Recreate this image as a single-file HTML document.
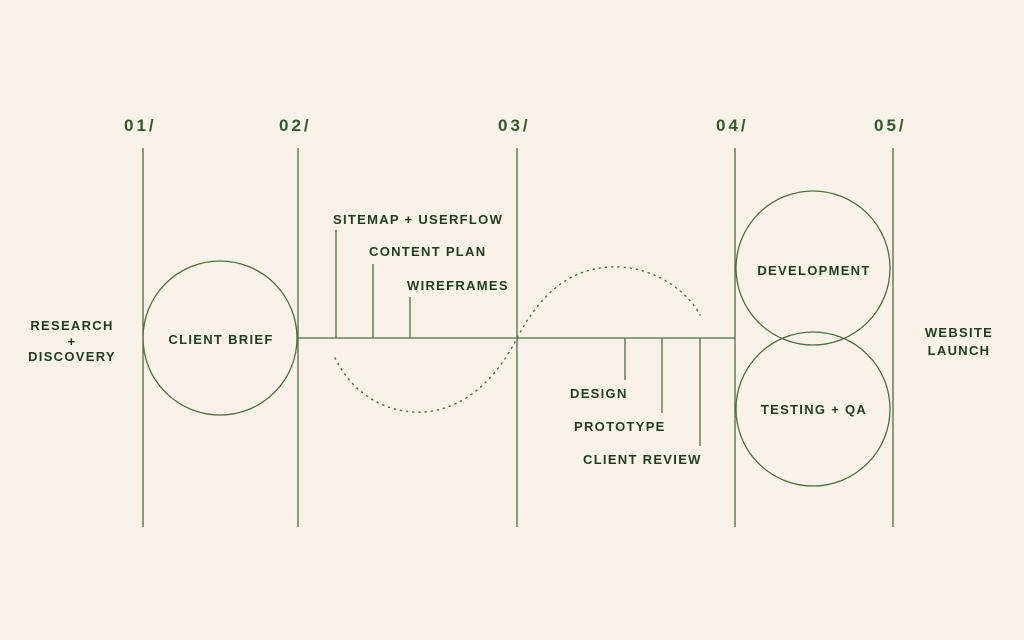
<!DOCTYPE html>
<html><head><meta charset="utf-8"><style>
html,body{margin:0;padding:0;background:#f8f2e8;}
svg{display:block}
text{font-family:"Liberation Sans",sans-serif;font-weight:bold;fill:#1f3d22;letter-spacing:1.3px;font-size:13px}
.n{font-size:17px;letter-spacing:3px;fill:#2f5a2a;font-weight:bold}
</style></head><body>
<svg width="1024" height="640" viewBox="0 0 1024 640">
<rect width="1024" height="640" fill="#f8f2e8"/>
<g stroke="#4d6e44" stroke-width="1.3" fill="none">
<line x1="143" y1="148" x2="143" y2="527"/>
<line x1="298" y1="148" x2="298" y2="527"/>
<line x1="517" y1="148" x2="517" y2="527"/>
<line x1="735" y1="148" x2="735" y2="527"/>
<line x1="893" y1="148" x2="893" y2="527"/>
<line x1="298" y1="338" x2="735" y2="338"/>
<circle cx="220" cy="338" r="77"/>
<circle cx="813" cy="268" r="77"/>
<circle cx="813" cy="409" r="77"/>
<line x1="336" y1="230" x2="336" y2="338"/>
<line x1="373" y1="264" x2="373" y2="338"/>
<line x1="410" y1="297" x2="410" y2="338"/>
<line x1="625" y1="338" x2="625" y2="380"/>
<line x1="662" y1="338" x2="662" y2="413"/>
<line x1="700" y1="338" x2="700" y2="446"/>
<path d="M335,358 C355,398 390,414 425,412 C470,408 500,372 517,338 C540,295 570,265 620,267 C660,269 690,295 700,315" stroke-dasharray="1.2 5" stroke-linecap="round" stroke-width="1.4"/>
</g>
<text class="n" x="124" y="131">01/</text>
<text class="n" x="279" y="131">02/</text>
<text class="n" x="498" y="131">03/</text>
<text class="n" x="716" y="131">04/</text>
<text class="n" x="874" y="131">05/</text>
<text x="72" y="330" text-anchor="middle">RESEARCH</text>
<text x="72" y="346" text-anchor="middle">+</text>
<text x="72" y="361" text-anchor="middle">DISCOVERY</text>
<text x="221" y="344" text-anchor="middle">CLIENT BRIEF</text>
<text x="333" y="224">SITEMAP + USERFLOW</text>
<text x="369" y="256">CONTENT PLAN</text>
<text x="407" y="290">WIREFRAMES</text>
<text x="570" y="398">DESIGN</text>
<text x="574" y="431">PROTOTYPE</text>
<text x="583" y="464">CLIENT REVIEW</text>
<text x="814" y="275" text-anchor="middle">DEVELOPMENT</text>
<text x="814" y="414" text-anchor="middle">TESTING + QA</text>
<text x="959" y="337" text-anchor="middle">WEBSITE</text>
<text x="959" y="355" text-anchor="middle">LAUNCH</text>
</svg>
</body></html>
